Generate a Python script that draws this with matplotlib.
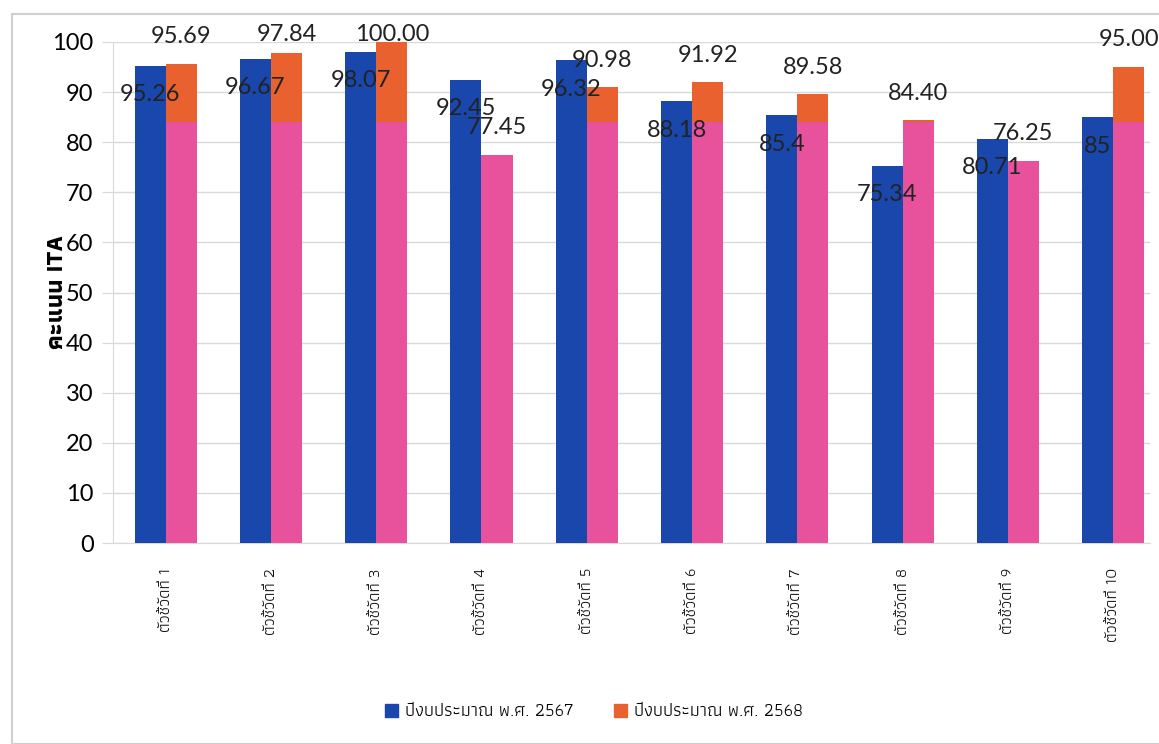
import matplotlib
matplotlib.use("Agg")
import matplotlib.pyplot as plt
from matplotlib import font_manager
from matplotlib.ft2font import FT2Font
from matplotlib.patches import Patch, Rectangle

# find fonts that can draw Thai, those with a bold face first
thai_weights = {}
for fe in font_manager.fontManager.ttflist:
    try:
        if 0x0E01 in FT2Font(fe.fname).get_charmap():
            w = fe.weight if isinstance(fe.weight, int) else 400
            thai_weights.setdefault(fe.name, set()).add(w)
    except Exception:
        pass
thai_fonts = sorted(thai_weights, key=lambda n: (max(thai_weights[n]) < 700, n))

categories = ["ตัวชี้วัดที่ %d" % i for i in range(1, 11)]
score_2567 = [95.26, 96.67, 98.07, 92.45, 96.32, 88.18, 85.4, 75.34, 80.71, 85]
score_2568 = [95.69, 97.84, 100.00, 77.45, 90.98, 91.92, 89.58, 84.40, 76.25, 95.00]
series_names = ["ปีงบประมาณ พ.ศ. 2567", "ปีงบประมาณ พ.ศ. 2568"]
pink_cap = 84

blue = "#1a47ab"
orange = "#e8612e"
pink = "#e8519b"

thai = thai_fonts + ["DejaVu Sans"]
num_font = "Lato"

fig = plt.figure(figsize=(11.59, 7.44), dpi=100)
ax = fig.add_axes([113 / 1159, 1 - 543 / 744, (1150 - 113) / 1159, (543 - 42) / 744])

x = list(range(len(categories)))
w = 0.295
xb = [i - w / 2 for i in x]
xo = [i + w / 2 for i in x]
ax.bar(xb, score_2567, w, color=blue, zorder=3)
ax.bar(xo, score_2568, w, color=orange, zorder=3)
ax.bar(xo, [min(v, pink_cap) for v in score_2568], w, color=pink, zorder=4)

# labels: 2567 inside the bar end, 2568 above the bar (kept under the frame)
for xi, v in zip(xb, score_2567):
    ax.text(xi, v - 5.8, f"{v:g}", ha="center", va="center", fontsize=17,
            family=num_font, color="#222222", zorder=6)
for xi, v in zip(xo, score_2568):
    ax.text(xi, min(v + 5.4, 101.5), f"{v:.2f}", ha="center", va="center", fontsize=17,
            family=num_font, color="#222222", zorder=6, clip_on=False)

ax.set_ylim(0, 100)
ax.set_xlim(-0.5, 9.35)
ax.set_yticks(range(0, 101, 10))
ax.grid(axis="y", color="#d9d9d9", linewidth=1, zorder=0)
ax.set_axisbelow(True)
ax.tick_params(axis="y", length=8, color="#d9d9d9", labelsize=17, pad=6)
for lab in ax.get_yticklabels():
    lab.set_family(num_font)
ax.set_xticks(x)
ax.set_xticklabels(categories, rotation=90, family=thai, fontsize=12, va="top", color="#111111")
ax.tick_params(axis="x", length=0, pad=18)
for s in ["top", "right"]:
    ax.spines[s].set_visible(False)
ax.spines["left"].set_color("#d9d9d9")
ax.spines["bottom"].set_color("#d9d9d9")
ax.set_ylabel("คะแนน ITA", family=thai, fontsize=17, fontweight="bold")
ax.yaxis.set_label_coords(-0.043, 0.5)

handles = [Patch(color=blue, label=series_names[0]), Patch(color=orange, label=series_names[1])]
fig.legend(handles=handles, loc="center", bbox_to_anchor=(594 / 1159, 1 - 712 / 744), ncol=2,
           frameon=False, prop={"family": thai, "size": 13}, handlelength=0.75, handleheight=0.75,
           columnspacing=2.2, handletextpad=0.4)

fig.patches.append(Rectangle((12 / 1159, 0.0), 1.2, 1 - 14 / 744, transform=fig.transFigure,
                             fill=False, edgecolor="#d0d0d0", linewidth=1.5))

fig.savefig("out.png", dpi=100)
